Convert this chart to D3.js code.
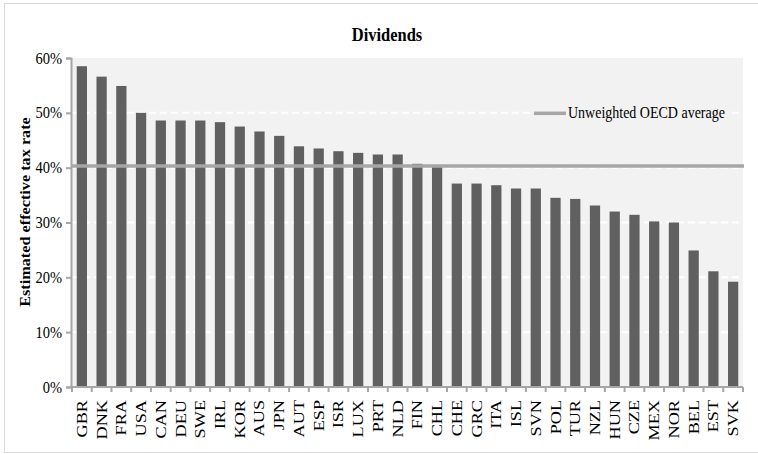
<!DOCTYPE html>
<html><head><meta charset="utf-8">
<script src="https://cdn.jsdelivr.net/npm/d3@7"></script>
<style>
body{margin:0;background:#fff;}
text{font-family:"Liberation Serif","Times New Roman",serif;fill:#000;}
</style></head>
<body>
<svg id="chart" width="758" height="454"></svg>
<script>
const countries = ["GBR","DNK","FRA","USA","CAN","DEU","SWE","IRL","KOR","AUS","JPN","AUT","ESP","ISR","LUX","PRT","NLD","FIN","CHL","CHE","GRC","ITA","ISL","SVN","POL","TUR","NZL","HUN","CZE","MEX","NOR","BEL","EST","SVK"];
const rates = [58.5,56.6,54.9,50.0,48.6,48.6,48.6,48.3,47.5,46.6,45.8,43.9,43.5,43.0,42.7,42.4,42.4,40.7,40.1,37.1,37.1,36.8,36.2,36.2,34.5,34.3,33.1,32.0,31.4,30.2,30.0,24.9,21.1,19.2];
const oecdAverage = 40.3;
const yTicks = [0,10,20,30,40,50,60];
const titleText = "Dividends";
const yLabel = "Estimated effective tax rate";
const legendLabel = "Unweighted OECD average";

const svg = d3.select("#chart");
const m = {left:72, right:743, top:58, bottom:387};
const SY = 1.18; // vertical stretch of text

svg.append("rect").attr("x",4.5).attr("y",3.5).attr("width",780).attr("height",449)
  .attr("fill","none").attr("stroke","#d9d9d9");

const x = d3.scaleBand().domain(countries).range([m.left,m.right]).paddingInner(0.48).paddingOuter(0.24);
const y = d3.scaleLinear().domain([0,60]).range([m.bottom,m.top]);

svg.append("rect").attr("x",m.left).attr("y",m.top).attr("width",m.right-m.left).attr("height",m.bottom-m.top).attr("fill","#f2f2f2");

svg.append("g").selectAll("line").data(yTicks.filter(d=>d>0&&d<60)).join("line")
  .attr("x1",m.left).attr("x2",m.right).attr("y1",d=>y(d)).attr("y2",d=>y(d))
  .attr("stroke","#fff").attr("stroke-width",2).attr("stroke-dasharray","7,4");

svg.append("g").selectAll("rect").data(countries).join("rect")
  .attr("x",d=>x(d)).attr("width",x.bandwidth())
  .attr("y",(d,i)=>y(rates[i])).attr("height",(d,i)=>y(0)-y(rates[i]))
  .attr("fill","#606060");

svg.append("line").attr("x1",m.left).attr("x2",m.right+1).attr("y1",y(oecdAverage)).attr("y2",y(oecdAverage))
  .attr("stroke","#a6a6a6").attr("stroke-width",3.5);

const lg = svg.append("g");
lg.append("rect").attr("x",530).attr("y",100).attr("width",198).attr("height",24).attr("fill","#f2f2f2");
lg.append("line").attr("x1",534).attr("x2",566).attr("y1",y(50)+0.5).attr("y2",y(50)+0.5).attr("stroke","#a6a6a6").attr("stroke-width",3.5);
lg.append("text").attr("transform",`translate(568,${y(50)+5.5}) scale(1,${SY})`).attr("font-size",14).text(legendLabel);

const yAxis = d3.axisLeft(y).tickValues(yTicks).tickFormat(d=>d+"%").tickSize(5).tickPadding(4);
const ga = svg.append("g").attr("transform",`translate(${m.left-1},0)`).call(yAxis);
ga.select(".domain").attr("stroke","#a6a6a6").attr("stroke-width",2);
ga.selectAll(".tick line").attr("stroke","#a6a6a6").attr("stroke-width",2);
ga.selectAll(".tick text").attr("font-size",14.5).attr("font-family","Liberation Serif").attr("fill","#000")
  .attr("x",0).attr("dy",null).attr("transform",`translate(-9,5) scale(1,${SY})`);

const xAxis = d3.axisBottom(x).tickSize(0).tickPadding(0);
const gx = svg.append("g").attr("transform",`translate(0,${m.bottom})`).call(xAxis);
gx.select(".domain").attr("stroke","#a6a6a6").attr("stroke-width",2).attr("d",`M${m.left-1},0H${m.right}`);
gx.selectAll(".tick text").attr("font-size",14).attr("font-family","Liberation Serif").attr("fill","#000")
  .attr("transform",`translate(5,13) scale(1,1.3) rotate(-90)`).attr("text-anchor","end").attr("dy","0").attr("y",0).attr("x",0);
const bounds = countries.map(c=>x(c)-x.step()*x.paddingInner()/2).concat([m.right]);
gx.append("g").selectAll("line").data(bounds).join("line")
  .attr("x1",d=>d).attr("x2",d=>d).attr("y1",0).attr("y2",5).attr("stroke","#a6a6a6").attr("stroke-width",2);

svg.append("text").attr("transform",`translate(387,41) scale(1,${SY})`).attr("text-anchor","middle").attr("font-size",16.5).attr("font-weight","bold").text(titleText);
svg.append("text").attr("transform",`translate(25,212) scale(1,1.12) rotate(-90)`).attr("text-anchor","middle").attr("font-size",14.5).attr("font-weight","bold").attr("dy","0.35em").text(yLabel);
</script>
</body></html>
